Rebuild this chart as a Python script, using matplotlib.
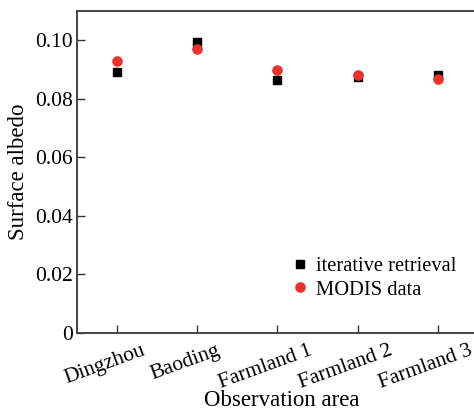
import numpy as np
import matplotlib.pyplot as plt
import matplotlib.transforms as mtransforms

plt.rcParams['font.family'] = ['Liberation Serif', 'DejaVu Serif']

areas = ['Dingzhou', 'Baoding', 'Farmland 1', 'Farmland 2', 'Farmland 3']
iterative = [0.0890, 0.0993, 0.0863, 0.0876, 0.0882]
modis = [0.0930, 0.0969, 0.0900, 0.0880, 0.0869]

fig = plt.figure(figsize=(4.74, 4.11), dpi=100)
ax = fig.add_axes([0.1624, 0.1898, 0.846, 0.7834])

x = np.arange(len(areas))
ax.plot(x, iterative, 's', color='black', markersize=5.6, label='iterative retrieval', zorder=2)
ax.plot(x, modis, 'o', color='#e8302c', markersize=6.6, label='MODIS data', zorder=3)

ax.set_xlim(-0.5, 4.5)
ax.set_ylim(0, 0.11)
ax.set_xticks(x)
ax.set_xticklabels([])
# rotated labels, nudged left of their ticks like the original
trans = mtransforms.blended_transform_factory(ax.transData, ax.transAxes) + \
    mtransforms.ScaledTranslation(-12 / 100, -8 / 100, fig.dpi_scale_trans)
for xi, name in zip(x, areas):
    ax.text(xi, 0, name, transform=trans, rotation=20, ha='center', va='top',
            fontsize=15.5, clip_on=False)

ax.set_yticks([0, 0.02, 0.04, 0.06, 0.08, 0.10])
ax.set_yticklabels(['0', '0.02', '0.04', '0.06', '0.08', '0.10'], fontsize=15.5)
ax.tick_params(direction='in', length=6, width=1, color='#333333')
ax.tick_params(axis='y', pad=3)
for s in ax.spines.values():
    s.set_color('#444444')
    s.set_linewidth(1.4)

ax.set_xlabel('Observation area', fontsize=16.5)
ax.xaxis.set_label_coords(0.51, -0.177)
ax.set_ylabel('Surface albedo', fontsize=16.5, labelpad=4)

ax.legend(loc='lower left', bbox_to_anchor=(0.51, 0.078), frameon=False, fontsize=14.8,
          handletextpad=0.3, borderaxespad=0, labelspacing=0.2, handlelength=1)

fig.savefig('out.png', dpi=100)
